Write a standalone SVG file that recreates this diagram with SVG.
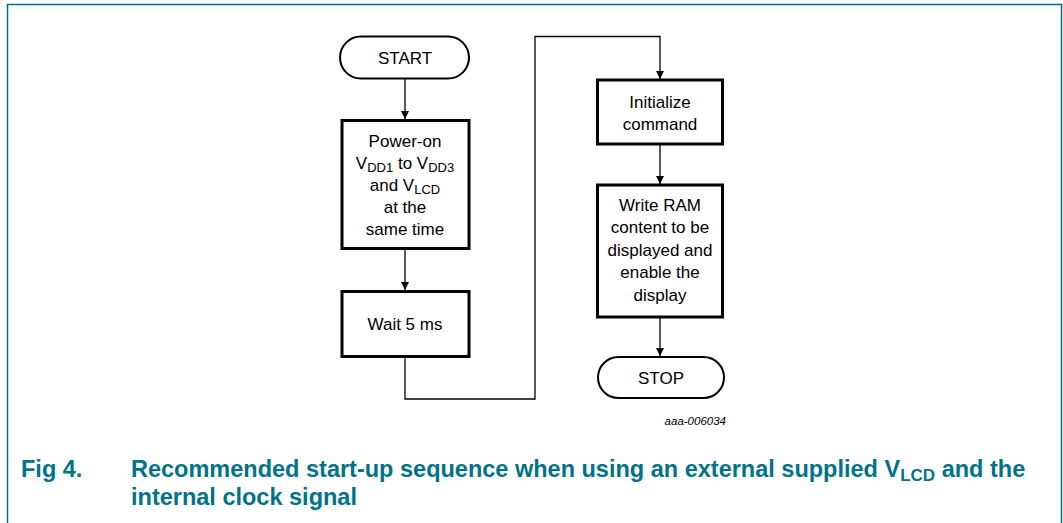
<svg xmlns="http://www.w3.org/2000/svg" width="1063" height="523" viewBox="0 0 1063 523">
<defs>
<marker id="arr" markerWidth="8" markerHeight="10" refX="8" refY="4" orient="auto" markerUnits="userSpaceOnUse">
<path d="M0,0 L8,4 L0,8 Z" fill="#000"/>
</marker>
<style>
.box{fill:#fff;stroke:#000;stroke-width:3}
.term{fill:#fff;stroke:#000;stroke-width:2}
.lbl{font-family:"Liberation Sans",Arial,sans-serif;font-size:17px;fill:#000;text-anchor:middle}
.sub{font-size:13px}
.con{fill:none;stroke:#000;stroke-width:1.3}
.cap{font-family:"Liberation Sans",Arial,sans-serif;font-size:23.5px;font-weight:bold;fill:#00728a}
.frame{fill:none;stroke:#00728a;stroke-width:1.5}
</style>
</defs>
<rect width="1063" height="523" fill="#fff"/>
<path class="frame" d="M7.5,523 V4.5 H1061.5 V523"/>

<g id="connectors">
<line class="con" x1="405" y1="79" x2="405" y2="119" marker-end="url(#arr)"/>
<line class="con" x1="405" y1="249" x2="405" y2="290" marker-end="url(#arr)"/>
<path class="con" d="M405,357 V399 H535 V36.5 H660 V79" marker-end="url(#arr)"/>
<line class="con" x1="660" y1="144" x2="660" y2="184" marker-end="url(#arr)"/>
<line class="con" x1="660" y1="317" x2="660" y2="356" marker-end="url(#arr)"/>
</g>

<g id="start">
<rect class="term" x="340" y="36.5" width="129" height="42" rx="21" ry="21"/>
<text class="lbl" x="405" y="64">START</text>
</g>

<g id="poweron">
<rect class="box" x="342" y="120.5" width="127" height="128"/>
<text class="lbl" x="405" y="147">Power-on</text>
<text class="lbl" x="405" y="169">V<tspan class="sub" dy="3">DD1</tspan><tspan dy="-3"> to V</tspan><tspan class="sub" dy="3">DD3</tspan></text>
<text class="lbl" x="405" y="191">and V<tspan class="sub" dy="3">LCD</tspan></text>
<text class="lbl" x="405" y="213">at the</text>
<text class="lbl" x="405" y="235">same time</text>
</g>

<g id="wait">
<rect class="box" x="342" y="291.5" width="127" height="65"/>
<text class="lbl" x="405" y="330">Wait 5 ms</text>
</g>

<g id="init">
<rect class="box" x="597.5" y="80" width="125" height="64"/>
<text class="lbl" x="660" y="108">Initialize</text>
<text class="lbl" x="660" y="130">command</text>
</g>

<g id="write">
<rect class="box" x="597.5" y="185" width="125" height="132"/>
<text class="lbl" x="660" y="211">Write RAM</text>
<text class="lbl" x="660" y="233">content to be</text>
<text class="lbl" x="660" y="256">displayed and</text>
<text class="lbl" x="660" y="278">enable the</text>
<text class="lbl" x="660" y="301">display</text>
</g>

<g id="stop">
<rect class="term" x="598" y="357" width="126" height="41" rx="20.5" ry="20.5"/>
<text class="lbl" x="661" y="384">STOP</text>
</g>

<text x="726" y="425" font-family="Liberation Sans,Arial,sans-serif" font-size="11.5" font-style="italic" text-anchor="end" fill="#000">aaa-006034</text>

<text class="cap" x="21" y="477">Fig 4.</text>
<text class="cap" x="131" y="477">Recommended start-up sequence when using an external supplied V<tspan font-size="17" dy="4">LCD</tspan><tspan dy="-4"> and the</tspan></text>
<text class="cap" x="131" y="505">internal clock signal</text>
</svg>
